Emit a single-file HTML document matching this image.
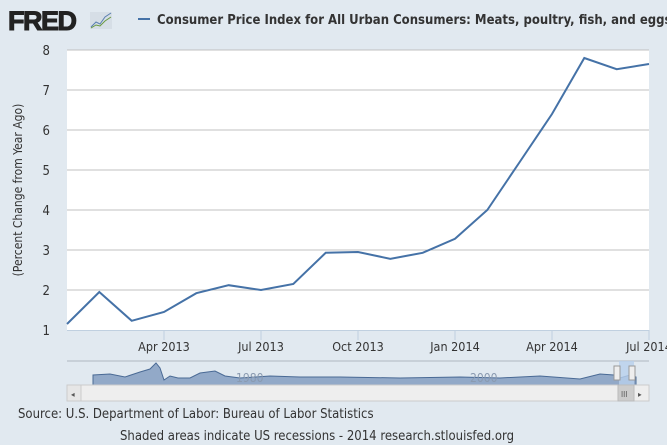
<!DOCTYPE html>
<html><head><meta charset="utf-8"><style>
body{margin:0;background:#e1e9f0;font-family:"DejaVu Sans Condensed","Liberation Sans",sans-serif;}
svg{display:block}
</style></head><body>
<svg id="c" width="667" height="445">
<rect width="667" height="445" fill="#e1e9f0"/>
<g>
<text x="8" y="30" font-family="Liberation Sans" font-weight="bold" font-size="27" fill="#222" stroke="#222" stroke-width="1" letter-spacing="-1.5">FRED</text>
<rect x="90" y="12" width="22" height="17" fill="#d6dee6"/>
<polyline points="91,27 96,22 100,24 105,17 111,13" fill="none" stroke="#5a7fb0" stroke-width="1"/>
<polyline points="91,28 96,25 100,26 105,21 111,17" fill="none" stroke="#6a9a40" stroke-width="1"/>
</g>
<line x1="138" y1="19" x2="150" y2="19" stroke="#4572a7" stroke-width="2"/>
<text x="157" y="24" font-size="13" font-weight="bold" fill="#333">Consumer Price Index for All Urban Consumers: Meats, poultry, fish, and eggs</text>
<rect x="67" y="50" width="582" height="280" fill="#fff"/>
<g id="grid"></g>
<g id="ticks"></g>
<text transform="translate(22,190) rotate(-90)" text-anchor="middle" font-size="12" fill="#333">(Percent Change from Year Ago)</text>
<path id="line" fill="none" stroke="#4572a7" stroke-width="2"/>
<g>
<line x1="67" y1="361" x2="649" y2="361" stroke="#b0b8c0"/>
<polygon points="93,385 93,375 110,374 125,377 140,372 150,369 156,363 160,368 164,380 170,376 178,378 190,378 200,373 215,371 225,376 240,378 270,376 300,377 340,377 400,378 460,377 500,378 540,376 580,379 600,374 614,375 620,378 630,375 636,377 636,385" fill="#92a9c8" stroke="#4a6a95" stroke-width="1"/>
<text x="236" y="382" font-size="12" fill="#8a9ab0">1980</text>
<text x="470" y="382" font-size="12" fill="#8a9ab0">2000</text>
<rect x="619" y="361" width="15" height="24" fill="#b8d0ec" opacity="0.8"/>
<rect x="614" y="366" width="6" height="14" fill="#eee" stroke="#999"/>
<rect x="629" y="366" width="6" height="14" fill="#eee" stroke="#999"/>
<rect x="67" y="385" width="582" height="16" fill="#eee" stroke="#ccc"/>
<rect x="67" y="385" width="14" height="16" fill="#e6e6e6" stroke="#ccc"/>
<text x="71" y="397" font-size="8" fill="#555">◂</text>
<rect x="618" y="385" width="16" height="16" fill="#ccc" stroke="#bbb"/>
<text x="621" y="397" font-size="8" fill="#555">III</text>
<text x="638" y="397" font-size="8" fill="#555">▸</text>
</g>
<text x="18" y="418" font-size="13" fill="#333">Source: U.S. Department of Labor: Bureau of Labor Statistics</text>
<text x="120" y="440" font-size="13" fill="#333">Shaded areas indicate US recessions - 2014 research.stlouisfed.org</text>
</svg>
<script>
const months=[0,1,2,3,4,5,6,7,8,9,10,11,12,13,14,15,16,17,18];
const values=[1.15,1.95,1.23,1.45,1.92,2.12,2.0,2.15,2.93,2.95,2.78,2.93,3.28,4.0,5.2,6.4,7.8,7.52,7.65];
const yTicks=[1,2,3,4,5,6,7,8];
const xTickMonths=[3,6,9,12,15,18];
const xTickLabels=["Apr 2013","Jul 2013","Oct 2013","Jan 2014","Apr 2014","Jul 2014"];
const X=m=>67+m*(582/18), Y=v=>330-(v-1)*40;
const ns="http://www.w3.org/2000/svg";
const grid=document.getElementById('grid'),ticks=document.getElementById('ticks');
yTicks.forEach(v=>{
 if(v>1){const l=document.createElementNS(ns,'line');
 l.setAttribute('x1',67);l.setAttribute('x2',649);l.setAttribute('y1',Y(v));l.setAttribute('y2',Y(v));l.setAttribute('stroke','#c0c0c0');
 
 
 grid.appendChild(l);}
 const t=document.createElementNS(ns,'text');t.setAttribute('x',50);t.setAttribute('y',Y(v)+5);t.setAttribute('text-anchor','end');t.setAttribute('font-size','13');t.setAttribute('fill','#333');t.textContent=v;
 
 
 ticks.appendChild(t);
});
const ax=document.createElementNS(ns,'line');ax.setAttribute('x1',67);ax.setAttribute('x2',649);ax.setAttribute('y1',330.5);ax.setAttribute('y2',330.5);ax.setAttribute('stroke','#c0d0e0');


ticks.appendChild(ax);
xTickMonths.forEach((m,i)=>{
 const l=document.createElementNS(ns,'line');l.setAttribute('x1',X(m));l.setAttribute('x2',X(m));l.setAttribute('y1',330);l.setAttribute('y2',340);l.setAttribute('stroke','#c0d0e0');
 
 
 ticks.appendChild(l);
 const t=document.createElementNS(ns,'text');t.setAttribute('x',X(m));t.setAttribute('y',351);t.setAttribute('text-anchor','middle');t.setAttribute('font-size','12.5');t.setAttribute('fill','#333');t.textContent=xTickLabels[i];
 
 
 ticks.appendChild(t);
});
document.getElementById('line').setAttribute('d',months.map((m,i)=>(i?'L':'M')+X(m).toFixed(1)+','+Y(values[i]).toFixed(1)).join(''));
</script>
</body></html>
